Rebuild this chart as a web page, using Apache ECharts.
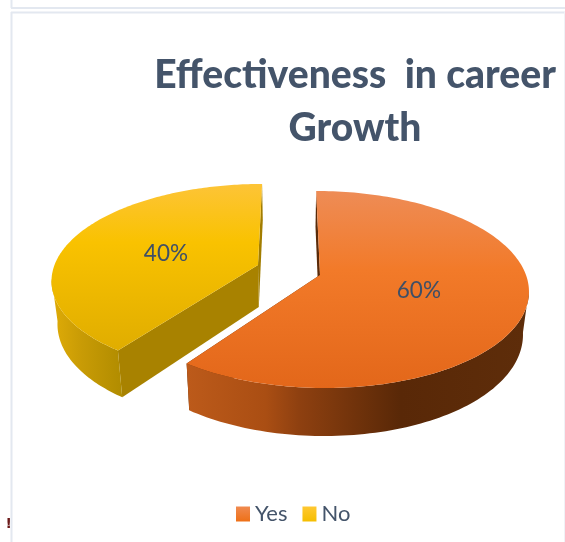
<!DOCTYPE html>
<html>
<head>
<meta charset="utf-8">
<style>html,body{margin:0;padding:0;background:#fff}#c{width:565px;height:542px}</style>
<script src="https://cdn.jsdelivr.net/npm/echarts@6/dist/echarts.min.js"></script>
</head>
<body>
<div id="c"></div>
<script>
const categories = ['Yes', 'No'];
const values = [60, 40];
const titleText = 'Effectiveness  in career\nGrowth';

const total = values.reduce((a, b) => a + b, 0);
const TEXT = '#44546A';
const FONT = 'Lato';
const VX = 290, K = 0.147;   // perspective of the tilted pie
const LAYOUT = {
  Yes: { cx: 320, cy: 275, rx: 206, ry: 96.4, labelDy: 1 },
  No:  { cx: 258, cy: 265, rx: 203.5, ry: 93, labelDy: 3 }
};
const grad = (x, y, x2, y2, stops) => new echarts.graphic.LinearGradient(
  x, y, x2, y2, stops.map(s => ({ offset: s[0], color: s[1] })), true);
const STYLE = {
  Yes: {
    top: grad(0, 191, 0, 388, [[0, '#EE8C56'], [0.4, '#F27A29'], [1, '#E3671A']]),
    outer: grad(188, 0, 525, 0, [[0, '#BC5A1A'], [0.23, '#AA4E13'], [0.33, '#8E4010'], [0.63, '#592807'], [1, '#5E2D0A']]),
    cutA: '#5A2A08', cutB: '#5A2A08'
  },
  No: {
    top: grad(0, 184, 0, 351, [[0, '#FDC437'], [0.35, '#F9C200'], [1, '#E0AD00']]),
    outer: grad(55, 0, 122, 0, [[0, '#DDAA07'], [0.4, '#C89B05'], [1, '#B18C00']]),
    cutA: grad(122, 0, 258, 0, [[0, '#917000'], [1, '#A27D00']]), cutB: '#A88200'
  }
};
const legendColor = {
  Yes: { type: 'linear', x: 0, y: 0, x2: 0, y2: 1, colorStops: [{ offset: 0, color: '#F08A50' }, { offset: 1, color: '#EE7017' }] },
  No:  { type: 'linear', x: 0, y: 0, x2: 0, y2: 1, colorStops: [{ offset: 0, color: '#FFC832' }, { offset: 1, color: '#F5BE00' }] }
};

function project(g, theta, r) {
  const u = r * Math.sin(theta), v = -r * Math.cos(theta), s = 1 / (1 - K * v);
  return { x: VX + (g.cx - VX + g.rx * u) * s, y: g.cy + g.ry * v * s, v };
}
function lower(p) {
  return [VX + (p.x - VX) * 0.975, p.y + 42 + 6 * p.v];
}
const xy = p => [p.x, p.y];

function makeRender(index) {
  return function (params, api) {
    const name = categories[index];
    const value = api.value(0);
    const g = LAYOUT[name], st = STYLE[name];
    const before = values.slice(0, index).reduce((a, b) => a + b, 0);
    const a0 = before / total * 2 * Math.PI;
    const a1 = (before + value) / total * 2 * Math.PI;
    const rim = [];
    const n = 160;
    for (let i = 0; i <= n; i++) rim.push(project(g, a0 + (a1 - a0) * i / n, 1));
    const apex = project(g, 0, 0);
    const front = rim.filter(p => p.v >= K - 0.02);
    const cut = (p, fill) => ({
      type: 'polygon',
      shape: { points: [xy(apex), xy(p), lower(p), lower(apex)] },
      style: { fill }
    });
    const mid = project(g, (a0 + a1) / 2, 0.49);
    return {
      type: 'group',
      children: [
        cut(rim[0], st.cutB),
        cut(rim[n], st.cutA),
        {
          type: 'polygon',
          shape: { points: front.map(xy).concat(front.slice().reverse().map(lower)) },
          style: { fill: st.outer }
        },
        {
          type: 'polygon',
          shape: { points: [xy(apex)].concat(rim.map(xy)) },
          style: { fill: st.top }
        },
        {
          type: 'text',
          style: {
            text: Math.round(value / total * 100) + '%',
            x: mid.x, y: mid.y + g.labelDy, align: 'center', verticalAlign: 'middle',
            fill: '#3F4F66', fontFamily: FONT, fontSize: 22.5
          }
        }
      ]
    };
  };
}

const chart = echarts.init(document.getElementById('c'), null, { renderer: 'canvas' });
chart.setOption({
  animation: false,
  backgroundColor: '#fff',
  title: {
    text: titleText,
    left: 355, top: 49, padding: 0, textAlign: 'center',
    textStyle: { color: TEXT, fontFamily: FONT, fontWeight: 900, fontSize: 39, lineHeight: 53 }
  },
  legend: {
    left: 236, top: 503, padding: 0, itemWidth: 14, itemHeight: 15, itemGap: 15,
    icon: 'rect',
    textStyle: { color: TEXT, fontFamily: FONT, fontSize: 22 },
    data: categories.map(c => ({ name: c, itemStyle: { color: legendColor[c] } }))
  },
  graphic: [
    { type: 'line', silent: true, shape: { x1: 11.5, y1: 0, x2: 11.5, y2: 8 }, style: { stroke: '#E3E8F0', lineWidth: 2 } },
    { type: 'line', silent: true, shape: { x1: 11, y1: 8, x2: 565, y2: 8 }, style: { stroke: '#E3E8F0', lineWidth: 2 } },
    { type: 'line', silent: true, shape: { x1: 11, y1: 12.5, x2: 565, y2: 12.5 }, style: { stroke: '#E3E8F0', lineWidth: 2 } },
    { type: 'line', silent: true, shape: { x1: 11.5, y1: 12, x2: 11.5, y2: 542 }, style: { stroke: '#E3E8F0', lineWidth: 2 } },
    { type: 'line', silent: true, shape: { x1: 564.5, y1: 12, x2: 564.5, y2: 542 }, style: { stroke: '#F0F2F6', lineWidth: 1 } },
    { type: 'text', silent: true, style: { text: '!', x: 5.5, y: 517, fill: '#6B1A1A', fontFamily: 'DejaVu Sans', fontWeight: 'bold', fontSize: 14 } }
  ],
  series: categories.map((c, i) => ({
    type: 'custom',
    name: c,
    coordinateSystem: 'none',
    itemStyle: { color: legendColor[c] },
    silent: true,
    data: [[values[i]]],
    renderItem: makeRender(i)
  }))
});
</script>
</body>
</html>
